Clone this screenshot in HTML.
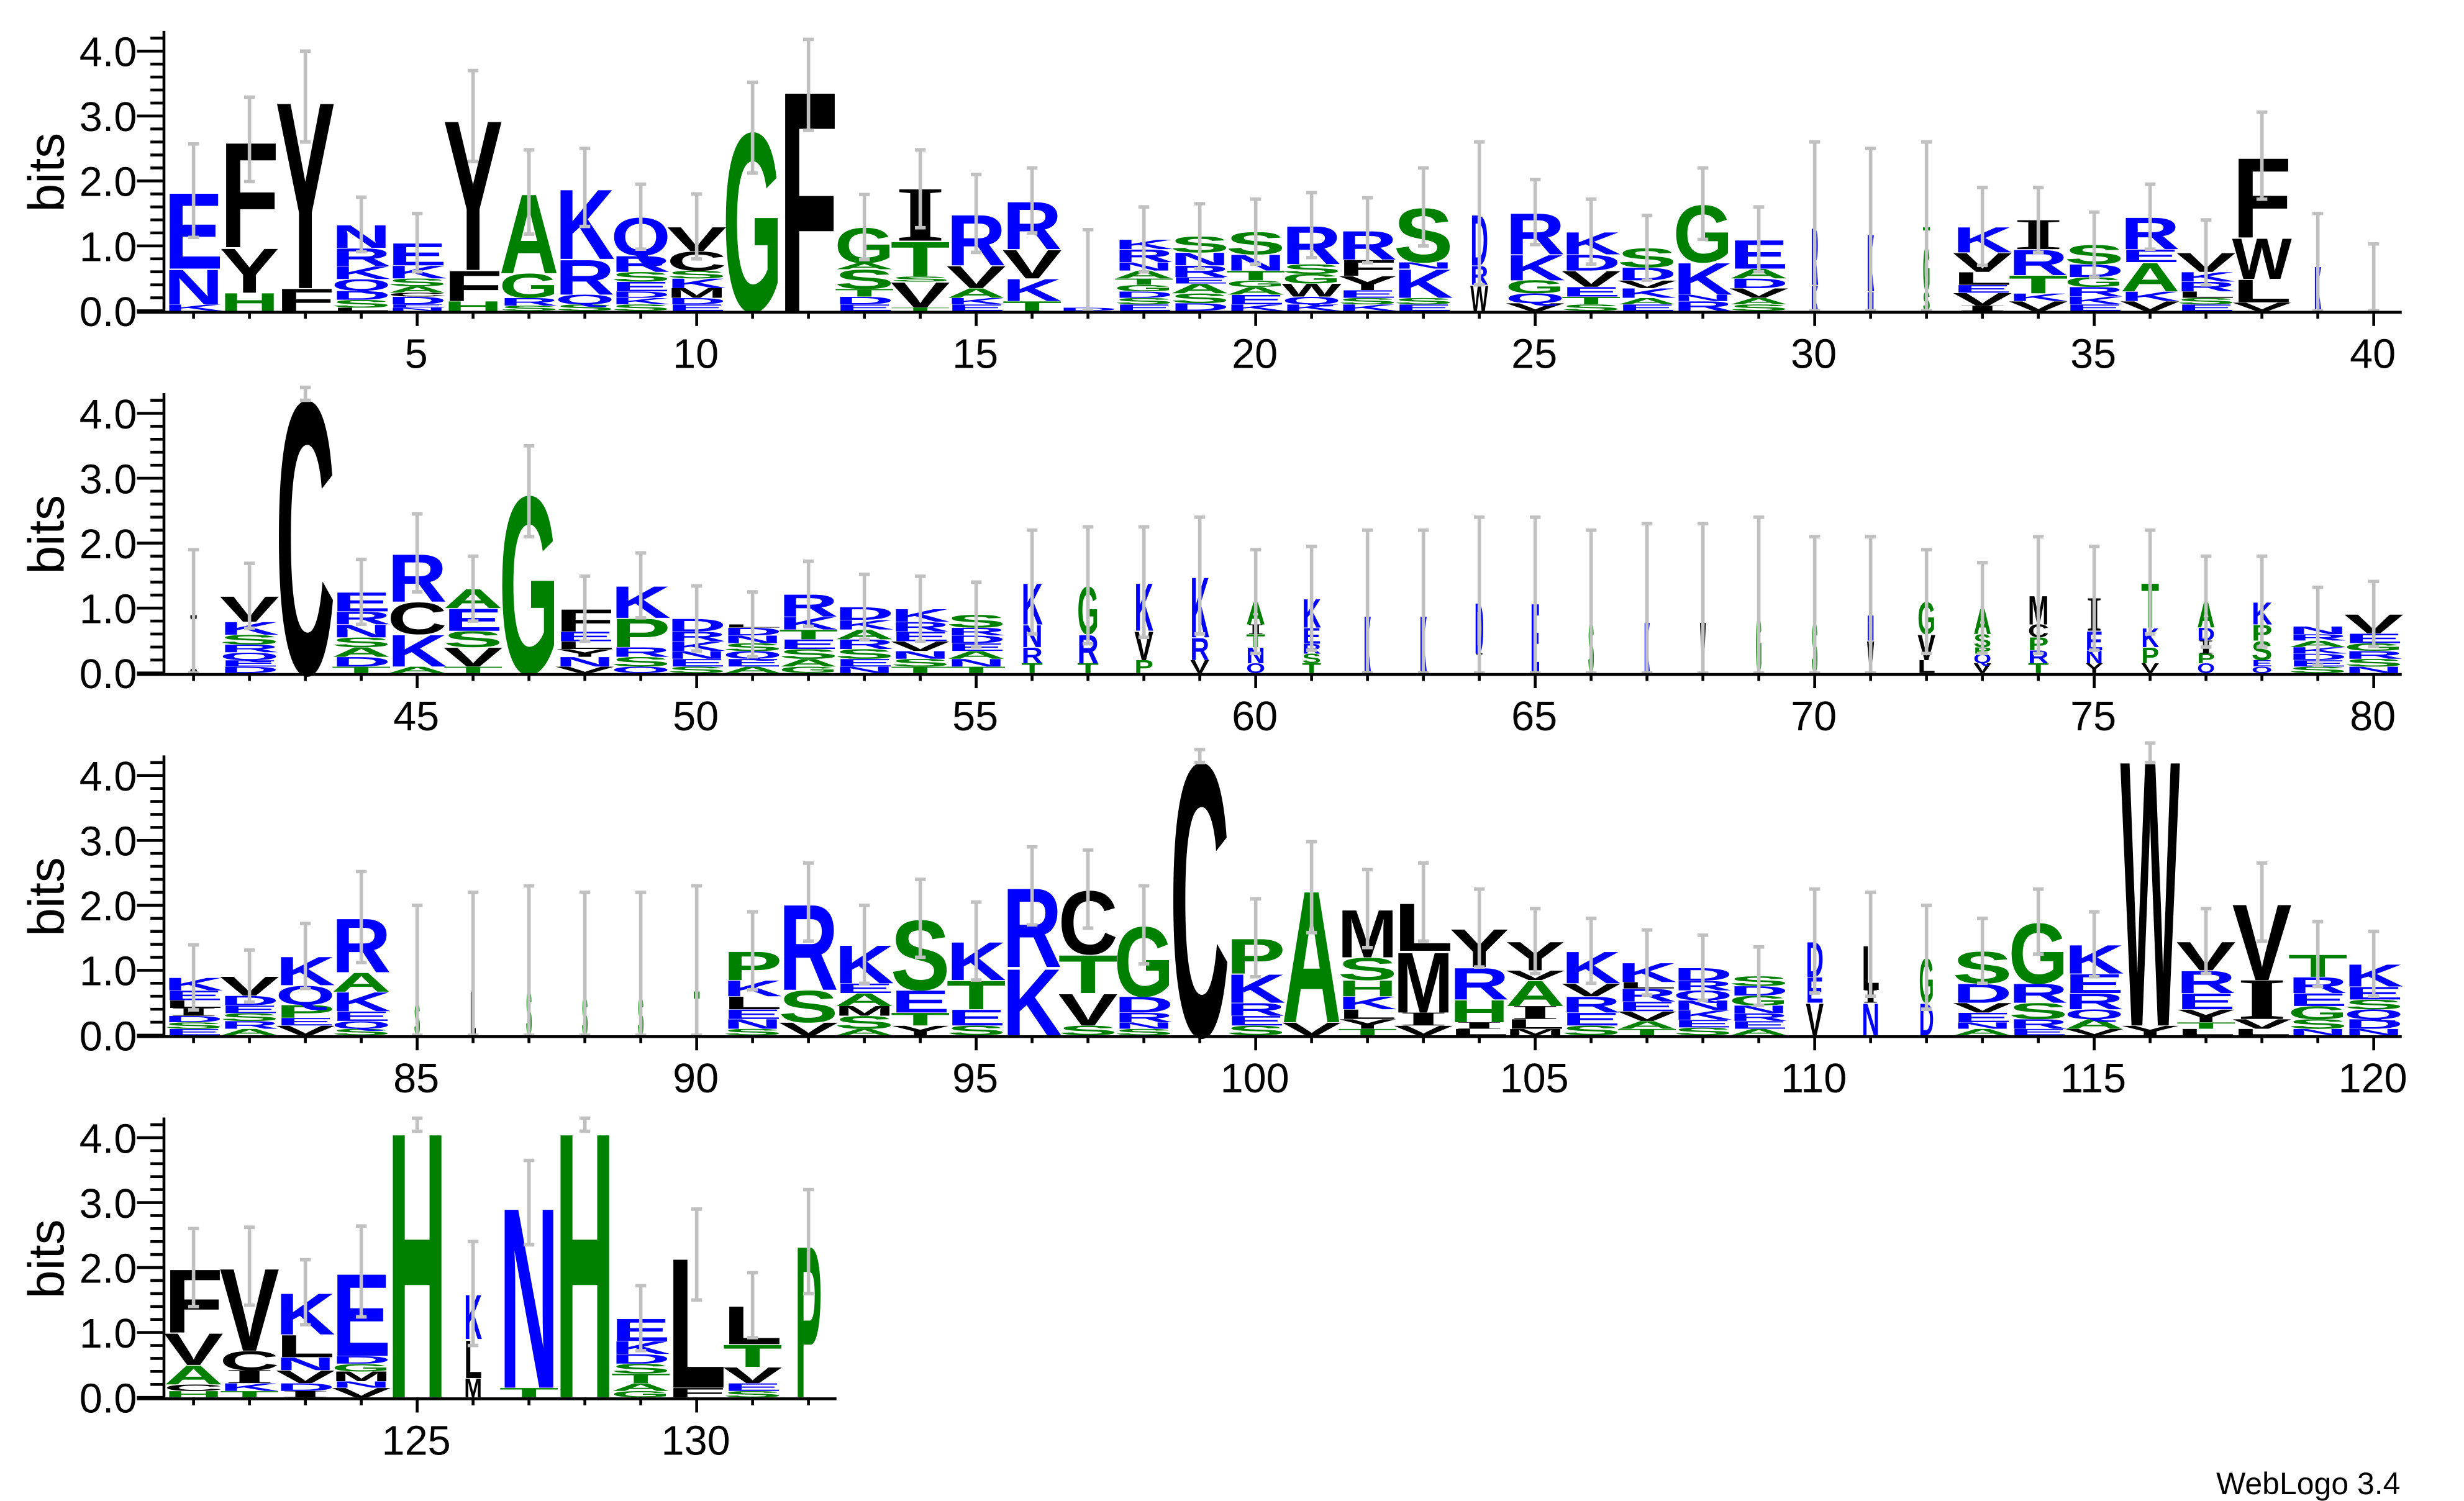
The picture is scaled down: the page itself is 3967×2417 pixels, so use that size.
<!DOCTYPE html>
<html><head><meta charset="utf-8">
<style>
html,body{margin:0;padding:0;background:#fff;}
svg{display:block;}
text{font-family:"Liberation Sans",Arial,sans-serif;}
</style></head>
<body>
<svg id="s" xmlns="http://www.w3.org/2000/svg" width="3967" height="2417" viewBox="0 0 1548 943.2" preserveAspectRatio="none">
<rect width="1548" height="943.2" fill="#fff"/>
<g id="logo"></g>
<g id="ax" stroke="#000" stroke-width="1.8" fill="none"></g>
<g font-size="26" text-anchor="end" fill="#000">
<text x="86" y="204.8">0.0</text><text x="86" y="164">1.0</text><text x="86" y="123.2">2.0</text><text x="86" y="82.4">3.0</text><text x="86" y="41.6">4.0</text>
<text x="86" y="432.4">0.0</text><text x="86" y="391.6">1.0</text><text x="86" y="350.8">2.0</text><text x="86" y="310">3.0</text><text x="86" y="269.2">4.0</text>
<text x="86" y="660">0.0</text><text x="86" y="619.2">1.0</text><text x="86" y="578.4">2.0</text><text x="86" y="537.6">3.0</text><text x="86" y="496.8">4.0</text>
<text x="86" y="887.6">0.0</text><text x="86" y="846.8">1.0</text><text x="86" y="806">2.0</text><text x="86" y="765.2">3.0</text><text x="86" y="724.4">4.0</text>
</g>
<g font-size="26" text-anchor="middle" fill="#000">
<text x="261.5" y="231.3">5</text><text x="437.1" y="231.3">10</text><text x="612.7" y="231.3">15</text><text x="788.3" y="231.3">20</text><text x="963.9" y="231.3">25</text><text x="1139.5" y="231.3">30</text><text x="1315.1" y="231.3">35</text><text x="1490.7" y="231.3">40</text>
<text x="261.5" y="458.9">45</text><text x="437.1" y="458.9">50</text><text x="612.7" y="458.9">55</text><text x="788.3" y="458.9">60</text><text x="963.9" y="458.9">65</text><text x="1139.5" y="458.9">70</text><text x="1315.1" y="458.9">75</text><text x="1490.7" y="458.9">80</text>
<text x="261.5" y="686.5">85</text><text x="437.1" y="686.5">90</text><text x="612.7" y="686.5">95</text><text x="788.3" y="686.5">100</text><text x="963.9" y="686.5">105</text><text x="1139.5" y="686.5">110</text><text x="1315.1" y="686.5">115</text><text x="1490.7" y="686.5">120</text>
<text x="261.5" y="914.1">125</text><text x="437.1" y="914.1">130</text>
</g>
<g font-size="32" text-anchor="middle" fill="#000">
<text transform="translate(40,108.3) rotate(-90)">bits</text>
<text transform="translate(40,335.9) rotate(-90)">bits</text>
<text transform="translate(40,563.5) rotate(-90)">bits</text>
<text transform="translate(40,791.1) rotate(-90)">bits</text>
</g>
<text x="1508" y="939" font-size="19.5" text-anchor="end" fill="#000">WebLogo 3.4</text>
</svg>
<script>
var D=[
["K.1N.55E1.2",.72],["H.28Y.7F1.66",.65],["F.35Y2.95",.7],["L.05S.12D.14Q.18K.2R.28N.36",.42],["N.05E.05D.12C.06A.1S.12K.2E.35",.45],
["H.15F.48Y2.37",.7],["S.08R.12G.38A1.25",.65],["S.1Q.15R.55K1.1",.6],["S.1K.1D.1E.15S.15R.25Q.6",.5],["E.1D.1M.15K.15S.12C.3V.38",.5],
["G2.82",.7],["F3.48",.7],["E.1D.12T.12S.3A.1G.55",.5],["T.05V.4S.08T.55I.8",.6],["E.1K.1A.15V.35R.8",.6],
["T.15K.35V.45R.75",.5],["D.05",1.2],["E.1S.1D.1G.1T.1A.12N.13R.2K.15",.5],["D.12S.15A.15E.1R.18N.2S.25",.5],["K.1E.15A.12G.1T.15N.25S.35",.5],
["K.1Q.12W.2G.15S.15R.6",.5],["K.1S.1E.12Y.22F.25R.45",.5],["E.1S.1K.45N.1S.85",.6],["W.4R.3D.8",1.1,.3],["V.12Q.15G.2K.4R.65",.5],
["S.1T.12E.15V.25D.25K.35",.5],["E.1A.1K.15V.12D.2S.3",.5],["R.15N.1K.5G.9",.55],["S.1A.1V.15D.15A.15E.45",.5],["K.4R.9",1.3,.12],
["N.3K.9",1.3,.12],["S.3G.7T.3",1.3,.12],["I.08V.2E.12L.2V.3K.4",.6],["V.15K.12T.28R.4I.45",.5],["E.1K.12R.15G.15D.2S.3",.5],
["V.15K.15A.45E.2R.5",.5],["E.1S.1L.1R.15K.15V.3",.5],["V.13L.36W.64F1.26",.67],["K.7",.8,.12],["D.03",1.0,.1],
["I.9",1.0,.15],["D.1E.1Q.12R.12S.15K.2V.4",.5],["C4.3",.1],["T.1D.15A.15S.15N.2R.2E.3",.5],["A.1K.5C.5R.75",.6],
["T.1V.3S.25E.35A.3",.5],["G2.8",.7],["V.1N.15Y.12L.12E.15F.35",.5],["Q.1S.15R.15P.45K.5",.5],["S.1E.12N.12K.15R.15D.2",.5],
["A.1E.12Q.12S.12N.12D.12L.05",.5],["G.1A.12S.15E.15T.15K.2R.35",.5],["N.1E.12S.15R.15A.15K.15D.2",.5],["T.1S.12N.12V.15E.15R.15K.2",.5],["T.1N.12A.12E.12D.12R.12S.2",.5],
["T.15R.25N.35K.65",.8,.36],["T.15R.45G.75",.9,.36],["P.2V.45K.75",.85,.32],["V.2R.35K.95",.9,.32],["Q.15N.25T.2I.15A.35",.8,.32],
["T.15S.15R.15E.25K.45",.8,.32],["K.9",1.3,.12],["K.9",1.3,.12],["I.3D.8",1.3,.15],["E1.1",1.3,.15],
["S.8",1.4,.1],["K.8",1.5,.1],["V.8",1.5,.1],["G.9",1.5,.1],["S.8",1.3,.1],
["V.5N.4",1.2,.12],["L.2V.4G.5",.8,.3],["V.15Q.15P.1S.2A.4",.7,.3],["T.15R.2P.2C.2M.45",.9,.35],["Y.15N.2E.3I.5",.8,.3],
["V.15P.25K.3T.7",.8,.3],["Q.15P.15I.2D.2A.4",.7,.3],["Q.1E.1S.3P.25K.35",.7,.35],["S.1E.1D.1K.1A.1R.1N.12",.6],["N.1S.12R.12G.12E.15V.3",.5],
["E.1S.1D.1I.12L.12E.15K.2",.5],["A.1R.12S.12E.12D.15V.3",.4],["V.15E.12P.2Q.3K.45",.5],["S.1Q.12E.15K.3A.3R.85",.7],["S.5",1.5,.1],
["L.7",1.5,.1],["S.7",1.6,.1],["S.6",1.6,.1],["S.6",1.6,.1],["T.7",1.6,.1],
["S.1N.15E.15L.2K.25P.45",.6],["V.2S.5R1.35",.6],["A.1S.2M.15A.2E.15K.6",.6],["Y.15T.2E.35S1.1",.6],["S.15E.25T.45K.6",.6],
["K1.05R1.25",.6],["S.15V.5T.6C1.0",.6],["S.1N.1R.15D.25G1.1",.6],["C4.3",.1],["S.15E.15R.2K.45P.55",.6],
["V.2A2.08",.7],["T.1Y.15L.15K.2H.25S.35M.75",.6],["V.15I.2M.95L.75",.6],["L.1I.1H.35R.5Y.6",.6],["M.1L.15I.2A.4V.15Y.45",.5],
["S.15E.2R.25V.2K.5",.5],["T.1A.12V.15E.15R.2L.1K.3",.5],["S.12E.12K.15N.15Q.15R.15D.2",.5],["A.1E.12R.12N.12G.15D.15S.15",.45],["V.5E.4D.55",.8,.3],
["N.5I.2L.7",.8,.3],["D.5G.7",.8,.25],["A.1N.1E.15V.15D.3S.5",.5],["E.1R.15S.25R.3G.95",.5],["V.1A.15Q.15R.25E.3K.45",.5],
["Y.15W4.2",.15],["L.1T.1Y.2E.25R.35V.45",.5],["L.1V.15I.6V1.2",.6],["N.1S.15G.2E.2R.25T.35",.5],["N.1D.15Q.15S.15E.2K.35",.5],
["H.1C.1A.3V.5F1.0",.6],["T.1K.12I.2C.3V1.3",.6],["I.1D.12V.2N.2L.35K.65",.5],["V.15N.1M.15G.12D.12E1.3",.7],["H4.2",.1],
["M.3L.6K.7",.8,.3],["T.15N2.85",.65],["H4.2",.1],["G.1A.12T.15S.15D.15K.2E.35",.5],["F.15L2.05",.7],
["S.1E.12V.25T.35L.6",.5],["P2.4",.8,.45]
];
var NS="http://www.w3.org/2000/svg";
var g=document.getElementById('logo'),ax=document.getElementById('ax');
var BIT=40.8,STEP=35.12,X0=121.6;
function y0r(r){return 195.3+227.6*r;}
function col(c){return "KRDENQ".indexOf(c)>=0?"#0000ff":("GSTAHP".indexOf(c)>=0?"#008000":"#000");}
function el(n,a,p){var e=document.createElementNS(NS,n);for(var k in a)e.setAttribute(k,a[k]);(p||g).appendChild(e);return e;}
var bars=[];
D.forEach(function(d,idx){
  var r=Math.floor(idx/40),i=idx%40,cx=X0+i*STEP,y0=y0r(r),w=(d[2]||1);
  var re=/([A-Z])([\d.]+)/g,m,cum=0;
  while((m=re.exec(d[0]))){
    var h=parseFloat(m[2])*BIT,yb=y0-cum;
    var lw=37.5*w, isI=(m[1]=="I");
    var a={transform:'translate('+cx.toFixed(2)+','+yb.toFixed(2)+') scale('+(lw/100).toFixed(4)+','+(h/(isI?66.2:71.6)).toFixed(4)+')','font-size':'100','font-weight':'bold','text-anchor':'middle',textLength:(isI?'85':'100'),lengthAdjust:'spacingAndGlyphs',fill:col(m[1])};
    if(isI)a['style']='font-family:"Liberation Serif",serif';
    var t=el('text',a);
    t.textContent=m[1];
    cum+=h;
  }
  var top=cum/BIT,e=d[1];
  bars.push([cx,y0-(top+e)*BIT,y0-Math.max(0,top-e)*BIT]);
});
bars.forEach(function(q){
  el('line',{x1:q[0],x2:q[0],y1:q[1],y2:q[2],stroke:'#c0c0c0','stroke-width':2.2});
  el('line',{x1:q[0]-3.4,x2:q[0]+3.4,y1:q[1],y2:q[1],stroke:'#c0c0c0','stroke-width':2.2});
  el('line',{x1:q[0]-3.4,x2:q[0]+3.4,y1:q[2],y2:q[2],stroke:'#c0c0c0','stroke-width':2.2});
});
for(var r=0;r<4;r++){
  var y0=y0r(r),n=(r<3?40:12),xe=X0+(n-1)*STEP+17.6;
  el('line',{x1:103,x2:103,y1:y0+0.9,y2:y0-4.31*BIT},ax);
  el('line',{x1:86,x2:xe,y1:y0+0.9,y2:y0+0.9},ax);
  for(var k=0;k<=21;k++){var yy=y0-k*0.2*BIT;el('line',{x1:(k%5==0?86:94.5),x2:103,y1:yy,y2:yy},ax);}
  for(var i=0;i<n;i++){var x=X0+i*STEP,pp=r*40+i+1;el('line',{x1:x,x2:x,y1:y0,y2:y0+(pp%5==0?9.5:5)},ax);}
}
</script>
</body></html>
